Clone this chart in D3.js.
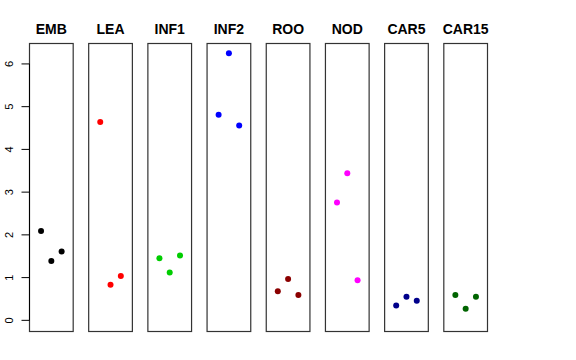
<!DOCTYPE html>
<html>
<head>
<meta charset="utf-8">
<script src="https://cdn.jsdelivr.net/npm/d3@7"></script>
<style>
  body { margin: 0; background: #fff; }
  svg { display: block; font-family: "Liberation Sans", Arial, Helvetica, sans-serif; }
</style>
</head>
<body>
<div id="app"></div>
<script>
const tissues = ['EMB', 'LEA', 'INF1', 'INF2', 'ROO', 'NOD', 'CAR5', 'CAR15']

// three replicates per tissue, left to right
const expression = [
  [2.09, 1.39, 1.61],
  [4.64, 0.83, 1.04],
  [1.45, 1.12, 1.52],
  [4.81, 6.25, 4.56],
  [0.68, 0.97, 0.59],
  [2.76, 3.44, 0.94],
  [0.35, 0.55, 0.46],
  [0.59, 0.27, 0.55]
]

const tissueColors = ['#000000', '#ff0000', '#00cd00', '#0000ff', '#8b0000', '#ff00ff', '#00008b', '#006400']

const yTicks = [0, 1, 2, 3, 4, 5, 6]

const width = 576
const height = 360

const svg = d3.select('#app')
  .append('svg')
  .attr('width', width)
  .attr('height', height)

const x = d3.scaleBand()
  .domain(tissues)
  .range([29, 488])
  .paddingInner(0.245)
  .paddingOuter(0)

// R-style ylim c(0, max) with 4% extension
const yMax = 6.24
const ext = yMax * 0.04
const y = d3.scaleLinear()
  .domain([-ext, yMax + ext])
  .range([331, 43])

const rep = d3.scalePoint()
  .domain([0, 1, 2])
  .range([0, x.bandwidth()])
  .padding(1.17)

const panel = svg.selectAll('g.panel')
  .data(tissues)
  .join('g')
  .attr('class', 'panel')
  .attr('transform', d => `translate(${x(d)},0)`)

panel.append('rect')
  .attr('x', 0.5)
  .attr('y', y.range()[1] + 0.5)
  .attr('width', x.bandwidth() - 1)
  .attr('height', y.range()[0] - y.range()[1])
  .attr('fill', 'none')
  .attr('stroke', '#333')
  .attr('stroke-width', 1.2)

panel.append('text')
  .attr('x', x.bandwidth() / 2)
  .attr('y', 34)
  .attr('text-anchor', 'middle')
  .attr('font-size', 14)
  .attr('font-weight', 'bold')
  .text(d => d)

panel.selectAll('circle')
  .data((d, i) => expression[i].map(v => ({ v, color: tissueColors[i] })))
  .join('circle')
  .attr('cx', (d, i) => rep(i))
  .attr('cy', d => y(d.v))
  .attr('r', 3)
  .attr('fill', d => d.color)

// y axis
const axis = svg.append('g')
  .attr('transform', `translate(${x(tissues[0]) + 0.5},0)`)

axis.append('line')
  .attr('y1', y(0))
  .attr('y2', y(6))
  .attr('stroke', '#000')

const tick = axis.selectAll('g.tick')
  .data(yTicks)
  .join('g')
  .attr('class', 'tick')
  .attr('transform', d => `translate(0,${y(d)})`)

tick.append('line')
  .attr('x1', -8)
  .attr('x2', 0)
  .attr('stroke', '#000')

tick.append('text')
  .attr('transform', 'translate(-17,0) rotate(-90)')
  .attr('text-anchor', 'middle')
  .attr('font-size', 11)
  .text(d => d)
</script>
</body>
</html>
